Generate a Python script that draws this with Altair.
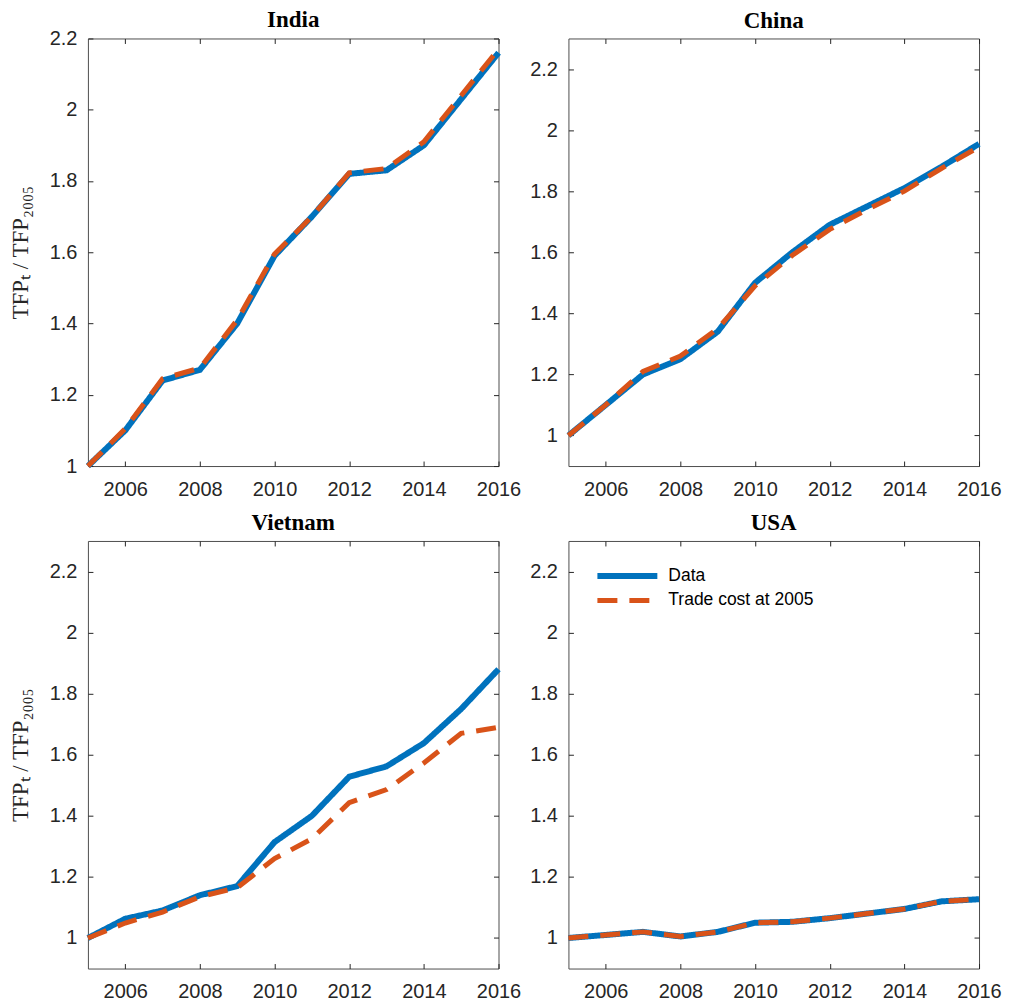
import altair as alt
import pandas as pd

years = list(range(2005, 2017))
countries = ["India", "China", "Vietnam", "USA"]
series_names = ["Data", "Trade cost at 2005"]
series_colors = ["#0072BD", "#D95319"]

india_data = [1.00, 1.10, 1.24, 1.27, 1.40, 1.59, 1.70, 1.82, 1.83, 1.90, 2.03, 2.16]
india_model = [1.00, 1.105, 1.245, 1.275, 1.41, 1.595, 1.70, 1.823, 1.835, 1.91, 2.04, 2.17]
china_data = [1.00, 1.10, 1.20, 1.25, 1.34, 1.50, 1.60, 1.69, 1.75, 1.81, 1.88, 1.955]
china_model = [1.00, 1.10, 1.21, 1.26, 1.35, 1.49, 1.59, 1.675, 1.74, 1.80, 1.875, 1.945]
vietnam_data = [1.00, 1.063, 1.09, 1.14, 1.17, 1.314, 1.40, 1.528, 1.562, 1.638, 1.75, 1.88]
vietnam_model = [1.00, 1.049, 1.085, 1.135, 1.165, 1.26, 1.325, 1.443, 1.486, 1.573, 1.67, 1.69]
usa_data = [1.00, 1.01, 1.02, 1.005, 1.02, 1.05, 1.053, 1.065, 1.08, 1.095, 1.12, 1.127]
usa_model = [1.00, 1.01, 1.02, 1.005, 1.02, 1.05, 1.053, 1.065, 1.08, 1.095, 1.12, 1.127]

x_ticks = [2006, 2008, 2010, 2012, 2014, 2016]
y_ticks = [1.0, 1.2, 1.4, 1.6, 1.8, 2.0, 2.2]
y_domains = {"India": [1.0, 2.2], "China": [0.9, 2.3], "Vietnam": [0.9, 2.3], "USA": [0.9, 2.3]}

series_by_country = {
    "India": (india_data, india_model),
    "China": (china_data, china_model),
    "Vietnam": (vietnam_data, vietnam_model),
    "USA": (usa_data, usa_model),
}

rows = []
for c in countries:
    d, m = series_by_country[c]
    for yr, v in zip(years, d):
        rows.append({"country": c, "year": yr, "value": v, "series": series_names[0]})
    for yr, v in zip(years, m):
        rows.append({"country": c, "year": yr, "value": v, "series": series_names[1]})
df = pd.DataFrame(rows)

TICK = 5
YTITLE = "TFPₜ  /  TFP₂₀₀₅"


def panel(country, show_ytitle, show_legend, title_offset):
    d = df[df.country == country]
    xs = alt.Scale(domain=[2005, 2016], nice=False, zero=False)
    ys = alt.Scale(domain=y_domains[country], nice=False, zero=False)
    if show_legend:
        leg = alt.Legend(title=None, orient="none", legendX=46, legendY=22,
                         symbolType="M-3,0L3,0", symbolSize=400,
                         labelFontSize=17.5, labelFont="Liberation Sans",
                         labelColor="#000000", labelOffset=28, rowPadding=-1, labelLimit=300)
    else:
        leg = None
    common_axis = dict(offset=-TICK, tickSize=TICK, domain=False, grid=False,
                       tickColor="#262626", labelColor="#262626", labelFont="Liberation Sans",
                       labelFontSize=20, labelFlush=False)
    lines = alt.Chart(d).mark_line().encode(
        x=alt.X("year:Q", scale=xs,
                axis=alt.Axis(values=x_ticks, format="d", title=None, orient="bottom",
                              labelPadding=13, **common_axis)),
        y=alt.Y("value:Q", scale=ys,
                axis=alt.Axis(values=y_ticks, format="~g", orient="left", labelPadding=11,
                              title=YTITLE if show_ytitle else None,
                              titleFont="Liberation Serif", titleFontSize=23,
                              titleFontWeight="normal", titleColor="#262626",
                              titlePadding=17, **common_axis)),
        color=alt.Color("series:N", scale=alt.Scale(domain=series_names, range=series_colors),
                        legend=leg),
        strokeDash=alt.StrokeDash("series:N",
                                  scale=alt.Scale(domain=series_names, range=[[1, 0], [20, 12]]),
                                  legend=leg),
        strokeWidth=alt.StrokeWidth("series:N",
                                    scale=alt.Scale(domain=series_names, range=[6, 5]),
                                    legend=leg),
        order=alt.Order("series:N"),
    )
    mirror_axis = dict(title=None, labels=False, offset=-TICK, tickSize=TICK, domain=False,
                       grid=False, tickColor="#262626", minExtent=0, maxExtent=0)
    mirror = alt.Chart(d).mark_line(opacity=0).encode(
        x=alt.X("year:Q", scale=xs, axis=alt.Axis(values=x_ticks, orient="top", **mirror_axis)),
        y=alt.Y("value:Q", scale=ys, axis=alt.Axis(values=y_ticks, orient="right", **mirror_axis)),
    )
    return alt.layer(lines, mirror).resolve_axis(x="independent", y="independent").properties(
        width=411, height=428, title=alt.TitleParams(country, offset=title_offset)
    )


chart = alt.concat(
    panel("India", True, False, -4),
    panel("China", False, False, 5),
    panel("Vietnam", True, False, 5),
    panel("USA", False, True, 5),
    columns=2,
    spacing={"row": 12, "column": 7},
).resolve_legend(
    color="independent", strokeDash="independent", strokeWidth="independent"
).configure_view(
    stroke="#4d4d4d", strokeWidth=1
).configure_title(
    font="Liberation Serif", fontSize=23, fontWeight="bold", color="#000000", anchor="middle"
).properties(padding={"left": 0, "top": 0, "right": 0, "bottom": 0})

chart.save("out.html", embed_options={"renderer": "svg", "actions": False})
